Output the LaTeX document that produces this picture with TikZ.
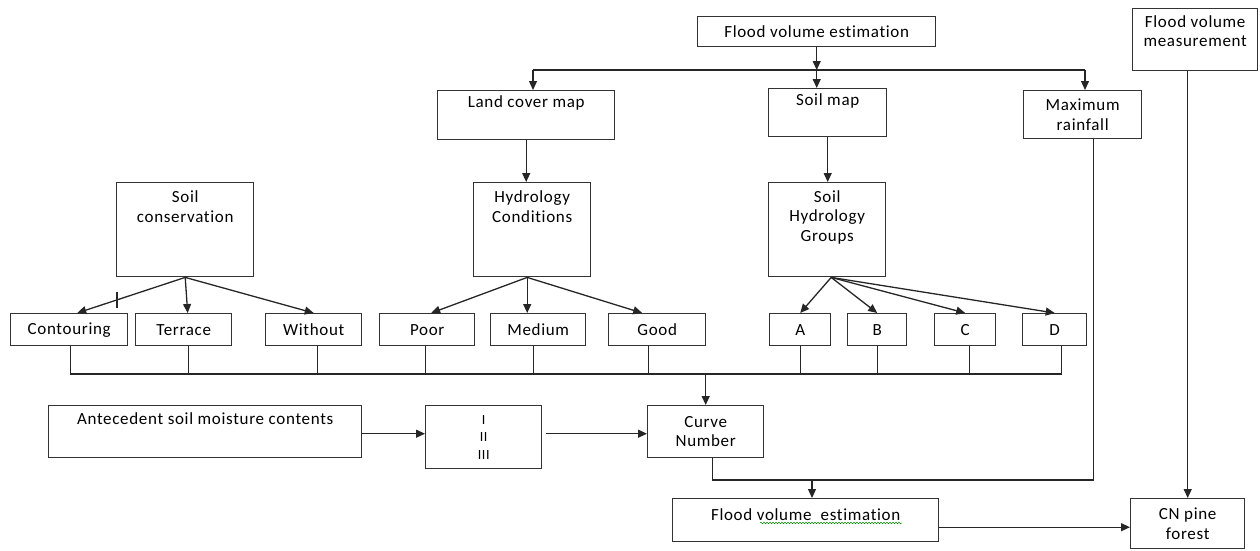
\documentclass[tikz,border=0pt]{standalone}
\usepackage{fontspec}
\setmainfont{Carlito}[LetterSpace=4, Ligatures=NoCommon]
\usetikzlibrary{positioning, arrows.meta, decorations.pathmorphing}

\begin{document}
\begin{tikzpicture}[
  x=1pt, y=-1pt,
  font=\fontsize{17}{19.5}\selectfont,
  box/.style 2 args={
    draw=black!80, line width=1.4pt, anchor=north west,
    minimum width=#1pt, minimum height=#2pt, inner sep=0pt, align=center
  },
  txt/.style={inner sep=0pt, align=center},
  wire/.style={draw=black!85, line width=1.3pt},
  arr/.style={wire, -{Triangle[length=9pt, width=8pt]}},
  squiggle/.style={draw=green!55!black, line width=0.5pt, decorate,
                   decoration={snake, amplitude=0.8pt, segment length=3pt}}
]

\useasboundingbox (0,0) rectangle (1260,550);

% ── Top row ──────────────────────────────────────────────────────────────────
\node[box={238}{30}] (fve) at (697,16) {Flood volume estimation};

\node[box={125}{62}] (fvm) at (1132,8) {};
\node[txt] (fvmt) at ([yshift=-23]fvm.north) {Flood volume\\measurement};

% ── Maps ─────────────────────────────────────────────────────────────────────
\node[box={177}{49}] (lcm) at (437,90) {};
\node[txt] (lcmt) at ([yshift=-13]lcm.north) {Land cover map};

\node[box={118}{48}] (soil) at (768,88) {};
\node[txt] (soilt) at ([yshift=-13]soil.north) {Soil map};

\node[box={118}{48}] (maxr) at (1023,90) {Maximum\\rainfall};

% ── Classes ──────────────────────────────────────────────────────────────────
\node[box={137}{94}] (sc) at (116,182) {};
\node[txt] (sct) at ([yshift=-24.5]sc.north) {Soil\\conservation};

\node[box={117}{94}] (hc) at (473,182) {};
\node[txt] (hct) at ([yshift=-24.5]hc.north) {Hydrology\\Conditions};

\node[box={117}{94}] (shg) at (768,182) {};
\node[txt] (shgt) at ([yshift=-35]shg.north) {Soil\\Hydrology\\Groups};

% ── Options row ──────────────────────────────────────────────────────────────
\node[box={117}{32}] (cont) at (10,313)  {Contouring};
\node[box={96}{32}]  (terr) at (135,313) {Terrace};
\node[box={96}{32}]  (with) at (265,313) {Without};
\node[box={95}{32}]  (poor) at (379,313) {Poor};
\node[box={95}{32}]  (med)  at (490,313) {Medium};
\node[box={97}{32}]  (good) at (608,313) {Good};
\node[box={61}{32}]  (ga)   at (769,313) {A};
\node[box={59}{32}]  (gb)   at (847,313) {B};
\node[box={61}{32}]  (gc)   at (934,313) {C};
\node[box={64}{32}]  (gd)   at (1022,313) {D};

% ── Curve number row ─────────────────────────────────────────────────────────
\node[box={313}{52}] (asm) at (48,405) {};
\node[txt] (asmt) at ([yshift=-14]asm.north) {Antecedent soil moisture contents};

\node[box={116}{63}, font=\fontsize{14}{17.5}\selectfont] (roman) at (425,405) {I\\II\\III};

\node[box={116}{52}] (cn) at (647,405) {Curve\\Number};

% ── Results ──────────────────────────────────────────────────────────────────
\node[box={266}{43}] (fve2) at (672,498) {};
\node[txt] (fve2t) at ([yshift=-17]fve2.north) {Flood volume\ \ estimation};

\node[box={114}{50}] (cnpf) at (1130,498) {CN pine\\forest};

% ── Connectors ───────────────────────────────────────────────────────────────
\coordinate (topbus) at (818,70);
\coordinate (busL) at (533,70);
\coordinate (busR) at (1085,70);
\coordinate (lowL) at (70,374);
\coordinate (lowR) at (1062,374);
\coordinate (merge) at (812,480);
\coordinate (tick) at (117,300);

\draw[arr] (fve.south) -- (fve.south |- topbus);
\draw[wire] (busL) -- (busR);
\draw[arr] (busL) -- (busL |- lcm.north);
\draw[arr] (fve.south |- topbus) -- (fve.south |- soil.north);
\draw[arr] (busR) -- (busR |- maxr.north);

\draw[arr] (lcm.south) -- (lcm.south |- hc.north);
\draw[arr] (soil.south) -- (soil.south |- shg.north);

\draw[arr] (sc.south) -- ([xshift=8]cont.north);
\draw[arr] (sc.south) -- ([xshift=4]terr.north);
\draw[arr] (sc.south) -- (with.north);
\draw[wire] ([yshift=8]tick) -- ([yshift=-8]tick);

\draw[arr] ([xshift=-5]hc.south) -- ([xshift=4]poor.north);
\draw[arr] ([xshift=-5]hc.south) -- ([xshift=-11]med.north);
\draw[arr] ([xshift=-5]hc.south) -- ([xshift=-15]good.north);

\draw[arr] ([xshift=4]shg.south) -- (ga.north);
\draw[arr] ([xshift=4]shg.south) -- (gb.north);
\draw[arr] ([xshift=4]shg.south) -- (gc.north);
\draw[arr] ([xshift=4]shg.south) -- (gd.north);

\draw[wire] (lowL) -- (lowR);
\draw[wire]
  ([xshift=1]cont.south) -- ([xshift=1]cont.south |- lowL)
  ([xshift=5]terr.south) -- ([xshift=5]terr.south |- lowL)
  ([xshift=4]with.south) -- ([xshift=4]with.south |- lowL)
  ([xshift=-2]poor.south) -- ([xshift=-2]poor.south |- lowL)
  ([xshift=-5]med.south) -- ([xshift=-5]med.south |- lowL)
  ([xshift=-9]good.south) -- ([xshift=-9]good.south |- lowL)
  (ga.south) -- (ga.south |- lowL)
  (gb.south) -- (gb.south |- lowL)
  ([xshift=4]gc.south) -- ([xshift=4]gc.south |- lowL)
  ([xshift=7]gd.south) -- ([xshift=7]gd.south |- lowL);
\draw[arr] (cn.north |- lowL) -- (cn.north);

\draw[arr] ([yshift=-2]asm.east) -- ([yshift=-2]asm.east -| roman.west);
\draw[arr, shorten <=4pt] ([yshift=-2]roman.east |- cn.west) -- ([yshift=-2]cn.west);

\draw[wire] ([xshift=7]cn.south) |- (merge) -| ([xshift=11]maxr.south);
\draw[arr] (merge) -- (merge |- fve2.north);

\draw[arr] (fvm.south -| cnpf.north) -- (cnpf.north);
\draw[arr] ([yshift=-7]fve2.east) -- ([yshift=-7]fve2.east -| cnpf.west);

\draw[squiggle] (760,523) -- (902,523);

\end{tikzpicture}
\end{document}
